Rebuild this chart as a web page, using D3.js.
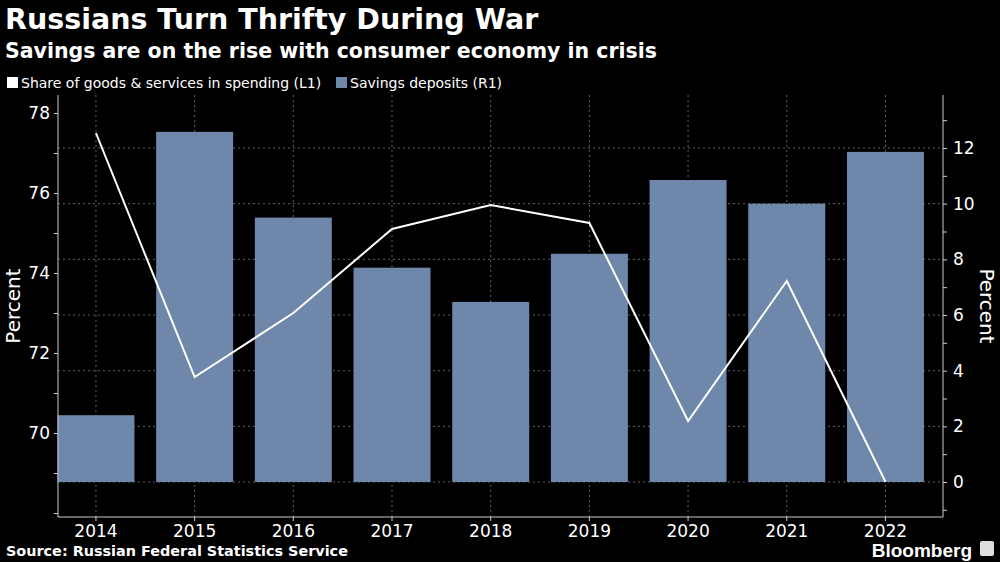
<!DOCTYPE html>
<html><head><meta charset="utf-8">
<script src="https://cdn.jsdelivr.net/npm/d3@7"></script>
<style>
body{margin:0;background:#000}
text{font-family:"DejaVu Sans",sans-serif;fill:#fff}
</style></head>
<body><svg id="c" width="1000" height="562"></svg>
<script>
const years = ['2014','2015','2016','2017','2018','2019','2020','2021','2022']
const shareGoods = [77.5, 71.4, 73.0, 75.1, 75.7, 75.25, 70.3, 73.8, 68.78]
const savings = [2.4, 12.58, 9.5, 7.7, 6.47, 8.2, 10.85, 10.0, 11.86]
const leftTicks = [70, 72, 74, 76, 78]
const rightTicks = [0, 2, 4, 6, 8, 10, 12]

const svg = d3.select('#c')
svg.append('rect').attr('width', 1000).attr('height', 562).attr('fill', '#000')

const axL = 58, axR = 943, plotTop = 95, plotBottom = 517
const x = d3.scaleBand().domain(years).range([46.6, 934.8]).paddingInner(0.22).paddingOuter(0.11)
const yL = d3.scaleLinear().domain([68, 78]).range([513, 113])
const yR = d3.scaleLinear().domain([0, 12]).range([482, 148])

// grid
const g = svg.append('g')
g.selectAll('.h').data(rightTicks).join('line')
  .attr('x1', axL).attr('x2', axR).attr('y1', d => yR(d)).attr('y2', d => yR(d))
  .attr('stroke', '#777').attr('stroke-dasharray', '2,3').attr('stroke-width', 0.8)
g.selectAll('.v').data(years).join('line')
  .attr('x1', d => x(d) + x.bandwidth() / 2).attr('x2', d => x(d) + x.bandwidth() / 2)
  .attr('y1', plotTop).attr('y2', plotBottom)
  .attr('stroke', '#777').attr('stroke-dasharray', '2,3').attr('stroke-width', 0.8)

// bars
svg.selectAll('.bar').data(years).join('rect')
  .attr('x', d => x(d)).attr('width', x.bandwidth())
  .attr('y', (d, i) => yR(savings[i])).attr('height', (d, i) => yR(0) - yR(savings[i]))
  .attr('fill', '#6f87aa')

// line
const line = d3.line().x((d, i) => x(years[i]) + x.bandwidth() / 2).y(d => yL(d))
svg.append('path').attr('d', line(shareGoods)).attr('fill', 'none')
  .attr('stroke', '#fff').attr('stroke-width', 2)

// axes
const styleAxis = sel => {
  sel.select('.domain').attr('stroke', '#ccc')
  sel.selectAll('.tick line').attr('stroke', '#ccc')
  sel.selectAll('text').style('font-size', '17px').style('font-family', '"DejaVu Sans",sans-serif').attr('fill', '#fff')
}
svg.append('g').attr('transform', `translate(${axL},0)`)
  .call(d3.axisLeft(yL).tickValues(d3.range(68, 79)).tickSize(4).tickPadding(4)
    .tickFormat(d => leftTicks.includes(d) ? d : ''))
  .call(s => s.select('.domain').attr('d', `M0,${plotTop}V${plotBottom}`))
  .call(styleAxis)
svg.append('g').attr('transform', `translate(${axR},0)`)
  .call(d3.axisRight(yR).tickValues(d3.range(-1, 14)).tickSize(4).tickPadding(6)
    .tickFormat(d => rightTicks.includes(d) ? d : ''))
  .call(s => s.select('.domain').attr('d', `M0,${plotTop}V${plotBottom}`))
  .call(styleAxis)
svg.append('g').attr('transform', `translate(0,${plotBottom})`)
  .call(d3.axisBottom(x).tickSize(4).tickPadding(4))
  .call(s => s.select('.domain').attr('d', `M${axL},0H${axR}`))
  .call(styleAxis)

// axis titles
svg.append('text').attr('transform', 'translate(20,306) rotate(-90)')
  .attr('text-anchor', 'middle').style('font-size', '20px').text('Percent')
svg.append('text').attr('transform', 'translate(980,306) rotate(90)')
  .attr('text-anchor', 'middle').style('font-size', '20px').text('Percent')

// titles
svg.append('text').attr('x', 5).attr('y', 29).style('font-size', '28.5px').style('font-weight', 'bold')
  .text('Russians Turn Thrifty During War')
svg.append('text').attr('x', 5).attr('y', 58).style('font-size', '20.5px').style('font-weight', 'bold')
  .text('Savings are on the rise with consumer economy in crisis')

// legend
svg.append('rect').attr('x', 7).attr('y', 77).attr('width', 11).attr('height', 11).attr('fill', '#fff')
svg.append('text').attr('x', 21).attr('y', 88).style('font-size', '14px').text('Share of goods & services in spending (L1)')
svg.append('rect').attr('x', 336).attr('y', 77).attr('width', 11).attr('height', 11).attr('fill', '#6f87aa')
svg.append('text').attr('x', 350).attr('y', 88).style('font-size', '14px').text('Savings deposits (R1)')

// footer
svg.append('text').attr('x', 6).attr('y', 556).style('font-size', '14.4px').style('font-weight', 'bold')
  .text('Source: Russian Federal Statistics Service')
svg.append('text').attr('x', 972).attr('y', 557).attr('text-anchor', 'end')
  .style('font-size', '19px').style('font-weight', 'bold')
  .style('font-family', '"Liberation Sans",sans-serif').text('Bloomberg')
svg.append('rect').attr('x', 980).attr('y', 541).attr('width', 14).attr('height', 15).attr('rx', 2).attr('fill', '#ddd')
</script></body></html>
